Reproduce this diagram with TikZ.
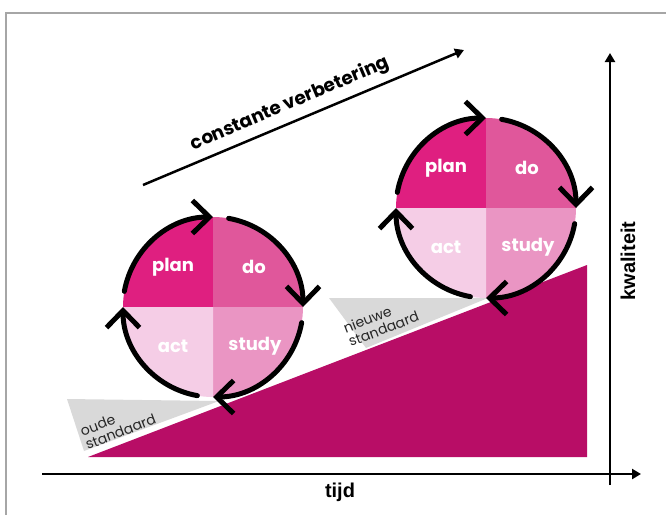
\documentclass[tikz,border=0pt]{standalone}
\usepackage{fontspec}
\setmainfont{Poppins}
\newfontfamily\axisfont{Liberation Sans}
\usetikzlibrary{arrows.meta}
\definecolor{planpink}{HTML}{DF1F80}
\definecolor{dopink}{HTML}{E0579B}
\definecolor{studypink}{HTML}{EA95C3}
\definecolor{actpink}{HTML}{F5CDE6}
\definecolor{slopepink}{HTML}{B80D66}
\definecolor{stdgray}{HTML}{D9D9D9}
\definecolor{framegray}{HTML}{A6A6A6}

\begin{document}
\begin{tikzpicture}[
  x=1pt, y=1pt,
  >={Triangle[length=9pt,width=10pt]},
  axis/.style={line width=2.5pt, ->},
  quarter/.style={font=\bfseries\fontsize{18}{18}\selectfont, text=white},
  cyclearrow/.style={line width=5pt, line cap=round, -{Straight Barb[length=17pt,width=33pt]}},
  standaard/.style={font=\fontsize{14}{14.5}\selectfont, text=black!85, align=left, rotate=21, inner sep=0pt},
  axislabel/.style={font=\axisfont\bfseries\fontsize{20}{20}\selectfont},
]
\useasboundingbox (0,0) rectangle (666,-515);

% Frame
\draw[framegray, line width=1.5pt] (6,-515) -- (6,-13) -- (666,-13);

% Axes
\coordinate (xstart) at (42,-474);
\coordinate (xend) at (641,-474);
\coordinate (ystart) at (610,-485);
\coordinate (yend) at (610,-53);
\draw[axis] (xstart) -- (xend);
\draw[axis] (ystart) -- (yend);
\node[axislabel] (tijd) at (340,-492) {tijd};
\node[axislabel, rotate=90] (kwaliteit) at (628,-261) {kwaliteit};

% Slope and standards
\fill[slopepink] (88,-457) -- (587,-457) -- (587,-265) -- cycle;
\fill[stdgray] (67,-399) -- (219,-401) -- (84,-451) -- cycle;
\fill[stdgray] (329,-298) -- (488,-298) -- (366,-348) -- cycle;
\node[standaard] (oude) at (118,-425) {oude\\standaard};
\node[standaard] (nieuwe) at (381,-322) {nieuwe\\standaard};

% Improvement arrow
\coordinate (impstart) at (143,-185);
\coordinate (impend) at (464,-50);
\draw[axis] (impstart) -- (impend);
\node[font=\bfseries\fontsize{18.5}{18.5}\selectfont, rotate=23] (improve) at (290,-104) {constante verbetering};

% ========== PDSA circles ==========
\coordinate (c1) at (213,-307);
\coordinate (c2) at (486,-208);
\foreach \c in {c1,c2} {
  \fill[planpink] (\c) -- ++(180:90) arc[start angle=180, end angle=90, radius=90pt] -- cycle;
  \fill[dopink] (\c) -- ++(90:90) arc[start angle=90, end angle=0, radius=90pt] -- cycle;
  \fill[studypink] (\c) -- ++(0:90) arc[start angle=0, end angle=-90, radius=90pt] -- cycle;
  \fill[actpink] (\c) -- ++(-90:90) arc[start angle=-90, end angle=-180, radius=90pt] -- cycle;
  \node[quarter] (\c plan) at ([shift={(-40,40)}]\c) {plan};
  \node[quarter] (\c do) at ([shift={(41,40)}]\c) {do};
  \node[quarter] (\c act) at ([shift={(-40,-39)}]\c) {act};
  \node[quarter] (\c study) at ([shift={(42,-39)}]\c) {study};
  \foreach \s/\e in {170/90, 80/0, -10/-90, -100/-180}
    \draw[cyclearrow] (\c) ++(\s:90) arc[start angle=\s, end angle=\e, radius=90pt];
}

\end{tikzpicture}
\end{document}
